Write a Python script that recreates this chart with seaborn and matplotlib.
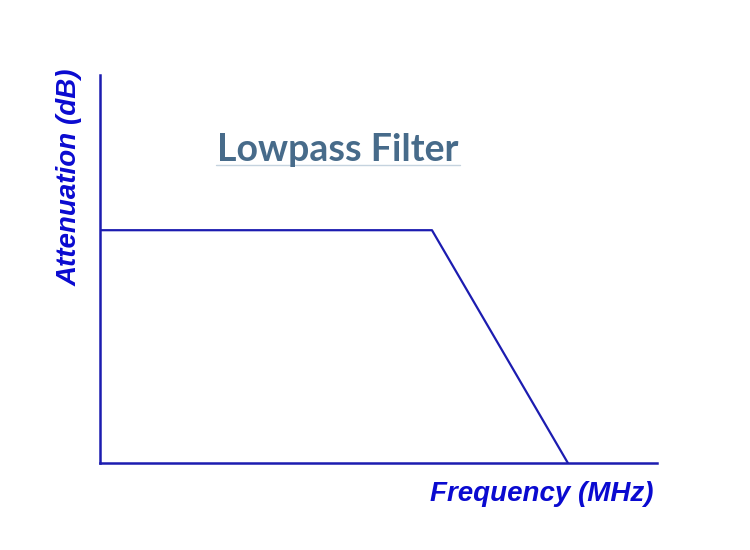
import matplotlib
matplotlib.use("Agg")
import matplotlib.pyplot as plt
import seaborn as sns
import pandas as pd
from matplotlib.lines import Line2D

# Idealised lowpass response: flat passband, linear roll-off to zero
frequency = [0.0, 5.96, 8.4]
attenuation = [6.0, 6.0, 0.0]

title_text = "Lowpass Filter"
x_label = "Frequency (MHz)"
y_label = "Attenuation (dB)"

W, H = 750, 550
sns.set_theme(style="white")
plt.rcParams["font.family"] = ["DejaVu Sans"]

fig = plt.figure(figsize=(W / 100, H / 100), dpi=100)
fig.patch.set_facecolor("white")

left, right, top, bottom = 100, 657, 75, 463
ax = fig.add_axes([left / W, (H - bottom) / H, (right - left) / W, (bottom - top) / H])
ax.set_facecolor("white")

df = pd.DataFrame({"freq": frequency, "atten": attenuation})
line_color = "#1c1cb0"
sns.lineplot(data=df, x="freq", y="atten", sort=False, color=line_color,
             linewidth=1.6, ax=ax)

ax.set_xlim(0, 10)
ax.set_ylim(0, 10)
ax.set_xticks([])
ax.set_yticks([])
ax.set_xlabel("")
ax.set_ylabel("")
for side in ("top", "right"):
    ax.spines[side].set_visible(False)
for side in ("left", "bottom"):
    ax.spines[side].set_color(line_color)
    ax.spines[side].set_linewidth(1.8)

label_color = "#0a0ad0"
label_font = ["Liberation Sans Narrow", "Liberation Sans", "DejaVu Sans"]
fig.text(542 / W, 1 - 494 / H, x_label, ha="center", va="center",
         fontsize=20, fontweight="bold", fontstyle="italic",
         color=label_color, family=label_font)
fig.text(70 / W, 1 - 177 / H, y_label, ha="center", va="center", rotation=90,
         fontsize=20, fontweight="bold", fontstyle="italic",
         color=label_color, family=label_font)

title_color = "#476b8a"
fig.text(338 / W, 1 - 150 / H, title_text, ha="center", va="center",
         fontsize=27, fontweight="bold", color=title_color,
         family=["Lato", "DejaVu Sans"])
fig.add_artist(Line2D([216 / W, 460 / W], [1 - 165 / H, 1 - 165 / H],
                      transform=fig.transFigure, color="#c5d3df", linewidth=1.0))

fig.savefig("out.png", dpi=100, facecolor="white")
